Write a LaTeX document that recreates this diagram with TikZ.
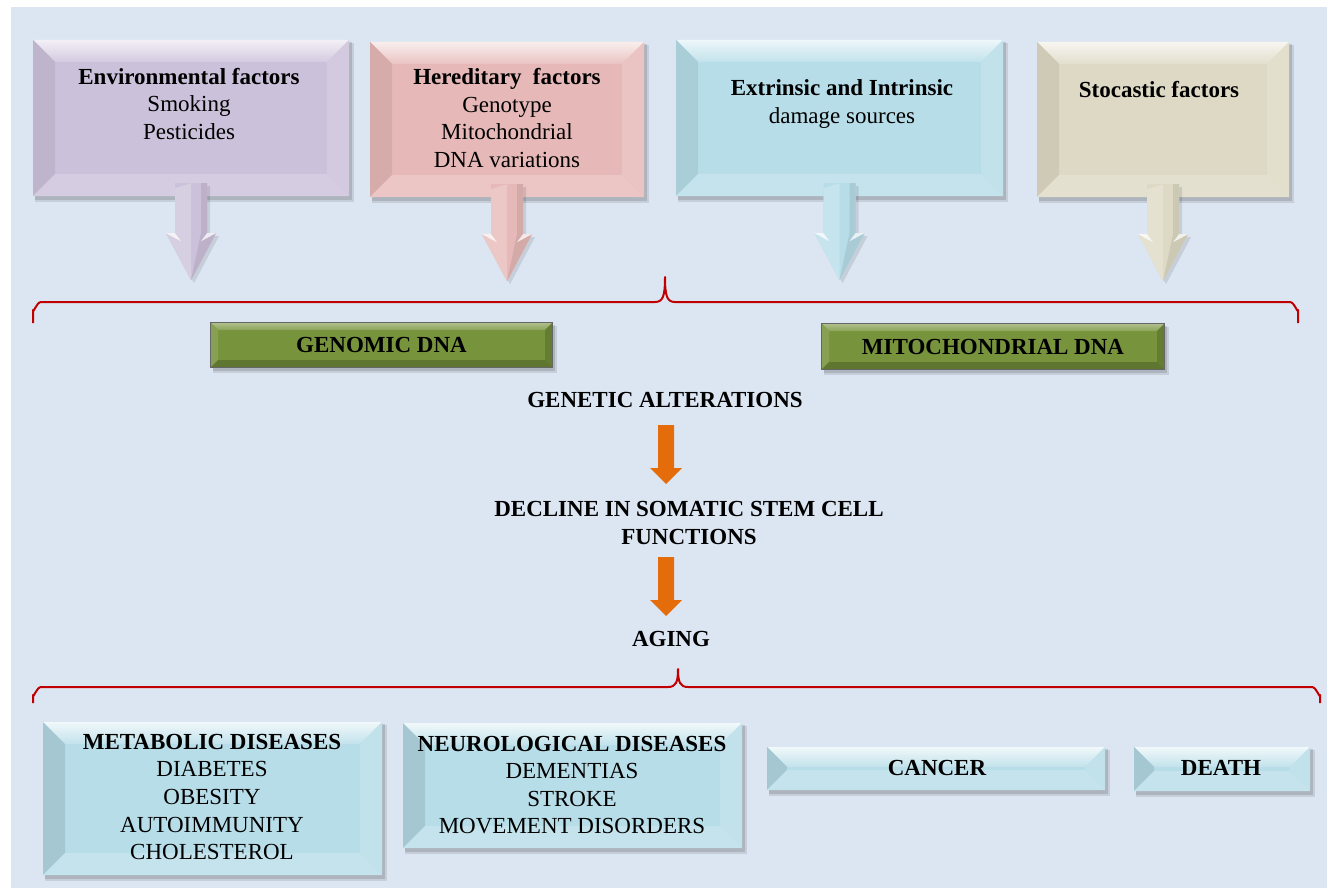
\documentclass[tikz,border=0pt]{standalone}
\usepackage{fontspec}
\setmainfont{Liberation Serif}
\usetikzlibrary{fit,calc}
\definecolor{bgc}{HTML}{DCE6F2}
\definecolor{clav}{HTML}{CCC1DA}
\definecolor{cpink}{HTML}{E6B9B8}
\definecolor{caqua}{HTML}{B7DDE8}
\definecolor{ctan}{HTML}{DDD9C4}
\definecolor{cgrn}{HTML}{77933C}
\definecolor{corg}{HTML}{E46C0A}
\definecolor{cbrk}{HTML}{C00000}
\def\btopa{25}\def\btopb{85}\def\bleft{93}\def\bright{85}\def\bbot{82}
\def\bleftc{black}\def\brightc{white}\def\bbotc{white}
% name, x1, y1, x2, y2, colour, bevel width
\newcommand\bevbox[7]{%
  \fill[black,opacity=.10] (#2+2,#3+3) rectangle (#4+5,#5+6);
  \fill[black,opacity=.12] (#2+2,#3+2) rectangle (#4+3,#5+4);
  \fill[#6] (#2,#3) rectangle (#4,#5);
  \shade[top color=#6!\btopa!white, bottom color=#6!\btopb!white] (#2,#3) -- (#4,#3) -- (#4-#7,#3+#7) -- (#2+#7,#3+#7) -- cycle;
  \fill[#6!\bleft!\bleftc] (#2,#3) -- (#2+#7,#3+#7) -- (#2+#7,#5-#7) -- (#2,#5) -- cycle;
  \fill[#6!\bright!\brightc] (#4,#3) -- (#4,#5) -- (#4-#7,#5-#7) -- (#4-#7,#3+#7) -- cycle;
  \fill[#6!\bbot!\bbotc] (#2,#5) -- (#4,#5) -- (#4-#7,#5-#7) -- (#2+#7,#5-#7) -- cycle;
  \node[fit={(#2,#3) (#4,#5)}, inner sep=0pt] (#1) {};
}
% block arrow below a box
\newcommand\blockdown[2]{%
  \begin{scope}[shift={(#1.south)}]
    \fill[black,opacity=.10] (-13,-10) -- (19,-10) -- (19,40) -- (28,40) -- (3,87) -- (-22,40) -- (-13,40) -- cycle;
    \fill[#2] (-16,-13) -- (16,-13) -- (16,37) -- (25,37) -- (0,84) -- (-25,37) -- (-16,37) -- cycle;
    \fill[#2!80!white] (-16,-8) -- (0,-13) -- (0,84) -- (-25,37) -- (-16,37) -- cycle;
    \fill[#2!92!black] (16,-13) -- (16,37) -- (25,37) -- (0,84) -- (10,37) -- (10,-13) -- cycle;
    \fill[white,opacity=.75] (-25,37) -- (-16,37) -- (-10,45) -- cycle;
    \fill[white,opacity=.75] (25,37) -- (16,37) -- (10,45) -- cycle;
  \end{scope}
}
\newcommand\orangedown[1]{%
  \begin{scope}[shift={(#1)}]
    \fill[corg] (-8,0) -- (8,0) -- (8,43) -- (16,43) -- (0,59) -- (-16,43) -- (-8,43) -- cycle;
  \end{scope}
}
\tikzset{
  txt/.style={font=\fontsize{23}{27.6}\selectfont, align=center, inner sep=0pt, text=black},
  btxt/.style={txt, font=\fontsize{23}{27.6}\selectfont\bfseries},
  brace/.style={draw=cbrk, line width=2pt, line join=round}
}
\begin{document}
\begin{tikzpicture}[x=1pt,y=-1pt]
\useasboundingbox (0,0) rectangle (1327,888);
\fill[white] (0,0) rectangle (1327,888);
\fill[bgc] (11,7) rectangle (1327,888);

% top boxes
\bevbox{env}{33}{40}{349}{196}{clav}{22}
\bevbox{her}{370}{42}{644}{197}{cpink}{22}
\bevbox{ext}{676}{40}{1003}{196}{caqua}{22}
\bevbox{sto}{1037}{42}{1289}{197}{ctan}{22}
\node[txt] (envt) at (189,104) {\textbf{Environmental factors}\\Smoking\\Pesticides};
\node[txt] (hert) at (507,118) {\textbf{Hereditary\hspace{0.5em}factors}\\Genotype\\Mitochondrial\\DNA variations};
\node[txt] (extt) at (842,104) {\textbf{Extrinsic and Intrinsic}\\damage sources};
\node[btxt] (stot) at (1159,90) {Stocastic factors};
\blockdown{env}{clav}
\blockdown{her}{cpink}
\blockdown{ext}{caqua}
\blockdown{sto}{ctan}

% upper brace
\draw[brace] (33,323) -- (33,310) to[out=-90,in=180] (41,302) -- (655,302)
  .. controls (663,302) and (665,296) .. (665,277)
  .. controls (665,296) and (667,302) .. (675,302) -- (1290,302)
  to[out=0,in=-90] (1298,310) -- (1298,323);

% green boxes
\def\btopa{60}\def\btopb{85}\def\bleft{88}\def\bleftc{white}\def\bright{85}\def\brightc{black}\def\bbot{80}\def\bbotc{black}
\bevbox{gdna}{211}{323}{552}{367}{cgrn}{7}
\bevbox{mdna}{822}{324}{1164}{369}{cgrn}{7}
\draw[black!60, line width=1.3pt] (gdna.north west) rectangle (gdna.south east);
\draw[black!60, line width=1.3pt] (mdna.north west) rectangle (mdna.south east);
\node[btxt] (gdnat) at (gdna) {GENOMIC DNA};
\node[btxt] (mdnat) at (mdna) {MITOCHONDRIAL DNA};

% central chain
\node[btxt] (ga) at (665,400) {GENETIC ALTERATIONS};
\node[btxt] (decl) at (689,523) {DECLINE IN SOMATIC STEM CELL\\FUNCTIONS};
\node[btxt] (aging) at (671,639) {AGING};
\coordinate (o1) at (666,425);
\coordinate (o2) at (666,557);
\orangedown{o1}
\orangedown{o2}

% lower brace
\draw[brace] (33,703) -- (33,695) to[out=-90,in=180] (41,687) -- (668,687)
  .. controls (676,687) and (678,682) .. (678,669)
  .. controls (678,682) and (680,687) .. (688,687) -- (1312,687)
  to[out=0,in=-90] (1320,695) -- (1320,703);

% bottom boxes
\def\btopa{20}\def\btopb{85}\def\bleft{90}\def\bleftc{black}\def\bright{85}\def\brightc{white}\def\bbot{82}\def\bbotc{white}
\bevbox{met}{43}{722}{382}{875}{caqua}{22}
\bevbox{neu}{403}{723}{742}{848}{caqua}{22}
\bevbox{can}{767}{747}{1105}{790}{caqua}{20}
\bevbox{dea}{1134}{747}{1310}{791}{caqua}{20}
\node[txt] (mett) at (212,797) {\textbf{METABOLIC DISEASES}\\DIABETES\\OBESITY\\AUTOIMMUNITY\\CHOLESTEROL};
\node[txt] (neut) at (572,785) {\textbf{NEUROLOGICAL DISEASES}\\DEMENTIAS\\STROKE\\MOVEMENT DISORDERS};
\node[btxt] (cant) at (937,768) {CANCER};
\node[btxt] (deat) at (1221,768) {DEATH};
\end{tikzpicture}
\end{document}
